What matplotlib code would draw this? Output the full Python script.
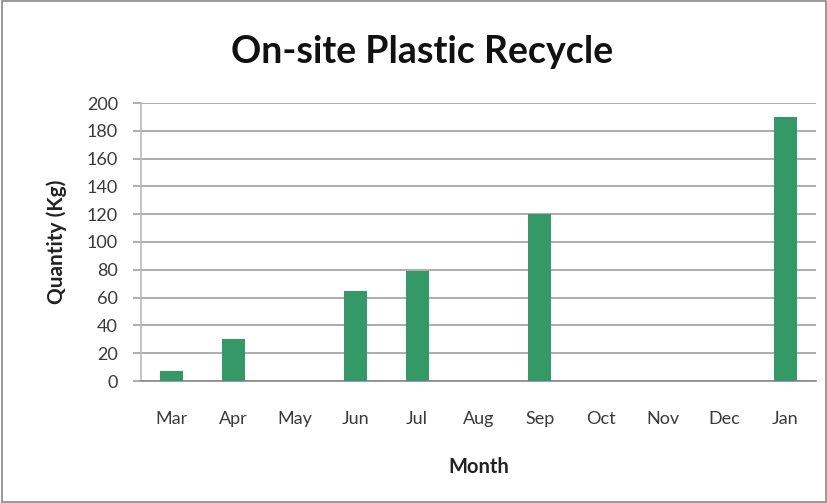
import matplotlib
matplotlib.use("Agg")
import matplotlib.pyplot as plt
from matplotlib.patches import Rectangle

months = ["Mar", "Apr", "May", "Jun", "Jul", "Aug", "Sep", "Oct", "Nov", "Dec", "Jan"]
quantity = [7, 30, 0, 65, 79, 0, 120, 0, 0, 0, 190]
yticks = list(range(0, 201, 20))

plt.rcParams['font.family'] = ['Lato', 'DejaVu Sans']

fig = plt.figure(figsize=(8.28, 5.03), dpi=100)
ax = fig.add_axes([141 / 828, 1 - 381 / 503, (816 - 141) / 828, (381 - 103) / 503])

x = list(range(len(months)))
ax.bar(x, quantity, width=0.375, color="#339966", zorder=3)
ax.set_xlim(-0.5, len(months) - 0.5)
ax.set_ylim(0, 200)
ax.set_yticks(yticks)
ax.set_xticks(x)
ax.set_xticklabels(months)
ax.grid(axis="y", color="#a0a0a0", linewidth=1.2, zorder=0)
ax.tick_params(axis="both", labelsize=13, colors="#3a3a3a")
ax.tick_params(axis="x", length=0, pad=21.5)
ax.tick_params(axis="y", length=5.5, width=1.2, color="#a0a0a0", pad=11)
for s in ["top", "right"]:
    ax.spines[s].set_visible(False)
ax.spines["left"].set_color("#bbbbbb")
ax.spines["left"].set_linewidth(1.2)
ax.spines["bottom"].set_color("#888888")
ax.spines["bottom"].set_linewidth(1.2)

ax.set_xlabel("Month", fontsize=14.5, fontweight="bold", labelpad=22, color="#222222")
ax.set_ylabel("Quantity (Kg)", fontsize=15, fontweight="bold", labelpad=14, color="#222222")
fig.text(422.5 / 828, 1 - 52 / 503, "On-site Plastic Recycle", ha="center", va="center",
         fontsize=27, fontweight="bold", color="#111111")

fig.patches.append(Rectangle((0.002, 0.002), 0.996, 0.996, transform=fig.transFigure,
                             fill=False, edgecolor="#888888", linewidth=1.2))

fig.savefig("out.png", dpi=100)
